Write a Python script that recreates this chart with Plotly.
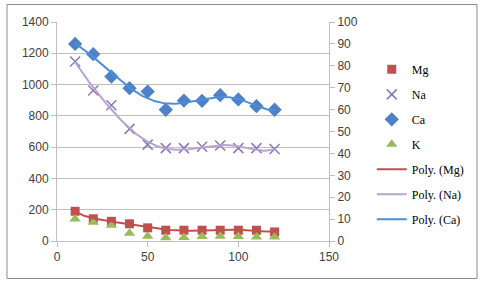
import numpy as np
import plotly.graph_objects as go

x = [10, 20, 30, 40, 50, 60, 70, 80, 90, 100, 110, 120]
mg = [190, 142, 126, 110, 84, 69, 69, 69, 69, 69, 69, 58]
na = [82, 68.7, 62, 51.2, 44, 42.4, 42.4, 43, 43.6, 42.4, 42.4, 42]   # right axis
ca = [1260, 1194, 1051, 977, 955, 839, 898, 896, 932, 905, 862, 839]
k = [140, 120, 100, 50, 31, 20, 22, 28, 30, 28, 25, 25]

x_ticks = [0, 50, 100, 150]
yl_range = [0, 1400]
yr_range = [0, 100]

C_MG = "#C0504D"
C_NA = "#8E77B8"
C_NA_LINE = "#B6A5CF"
C_CA = "#4F81C7"
C_CA_LINE = "#4B8FDA"
C_K = "#9BBB59"

xs = np.linspace(min(x), max(x), 200)


def poly(xv, yv, deg):
    p = np.polynomial.Polynomial.fit(xv, yv, deg)
    return p(xs)


fig = go.Figure()
fig.add_trace(go.Scatter(x=x, y=mg, mode="markers", name="Mg", legendgroup="1",
                         marker=dict(symbol="square", size=9, color=C_MG)))
fig.add_trace(go.Scatter(x=x, y=na, mode="markers", name="Na", legendgroup="2", yaxis="y2",
                         marker=dict(symbol="x-thin", size=10, color=C_NA,
                                     line=dict(color=C_NA, width=1.5))))
fig.add_trace(go.Scatter(x=x, y=ca, mode="markers", name="Ca", legendgroup="3",
                         marker=dict(symbol="diamond", size=11, color=C_CA)))
fig.add_trace(go.Scatter(x=x, y=k, mode="markers", name="K", legendgroup="4",
                         marker=dict(symbol="triangle-up", size=10, color=C_K)))
fig.add_trace(go.Scatter(x=xs, y=poly(x, mg, 6), mode="lines", name="Poly. (Mg)", legendgroup="5",
                         line=dict(color=C_MG, width=2)))
fig.add_trace(go.Scatter(x=xs, y=poly(x, na, 6), mode="lines", name="Poly. (Na)", legendgroup="6",
                         yaxis="y2", line=dict(color=C_NA_LINE, width=2)))
fig.add_trace(go.Scatter(x=xs, y=poly(x, ca, 6), mode="lines", name="Poly. (Ca)", legendgroup="7",
                         line=dict(color=C_CA_LINE, width=2)))

axis_font = dict(family="Liberation Sans", size=12, color="#404040")
fig.update_layout(
    width=480, height=284,
    margin=dict(l=57, r=149.5, t=22, b=42.5),
    paper_bgcolor="white", plot_bgcolor="white",
    showlegend=True,
    legend=dict(x=1.153, xanchor="left", y=0.85, yanchor="top",
                font=dict(family="Liberation Serif", size=12, color="#000000"),
                traceorder="grouped", tracegroupgap=6,
                bgcolor="rgba(0,0,0,0)"),
    xaxis=dict(range=[0, 150], tickvals=x_ticks, showgrid=False, zeroline=False,
               showline=True, linecolor="#BFBFBF", linewidth=1, ticks="outside",
               ticklen=5, tickcolor="#BFBFBF", tickfont=axis_font),
    yaxis=dict(range=yl_range, dtick=200, showgrid=True, gridcolor="#BFBFBF", gridwidth=1,
               zeroline=False, showline=True, linecolor="#BFBFBF", ticks="outside",
               ticklen=5, tickcolor="#BFBFBF", tickfont=axis_font),
    yaxis2=dict(range=yr_range, dtick=10, overlaying="y", side="right", showgrid=False,
                zeroline=False, showline=True, linecolor="#BFBFBF", ticks="outside",
                ticklen=5, tickcolor="#BFBFBF", tickfont=axis_font),
    shapes=[dict(type="rect", xref="paper", yref="paper", xsizemode="pixel", ysizemode="pixel",
                 xanchor=0, yanchor=0, x0=-50, x1=420, y0=-37.5, y1=236.5,
                 line=dict(color="#8C8C8C", width=1), fillcolor="rgba(0,0,0,0)")],
)

fig.write_html("out.html", config={"displayModeBar": False},
               post_script="document.body.style.margin='0';")
